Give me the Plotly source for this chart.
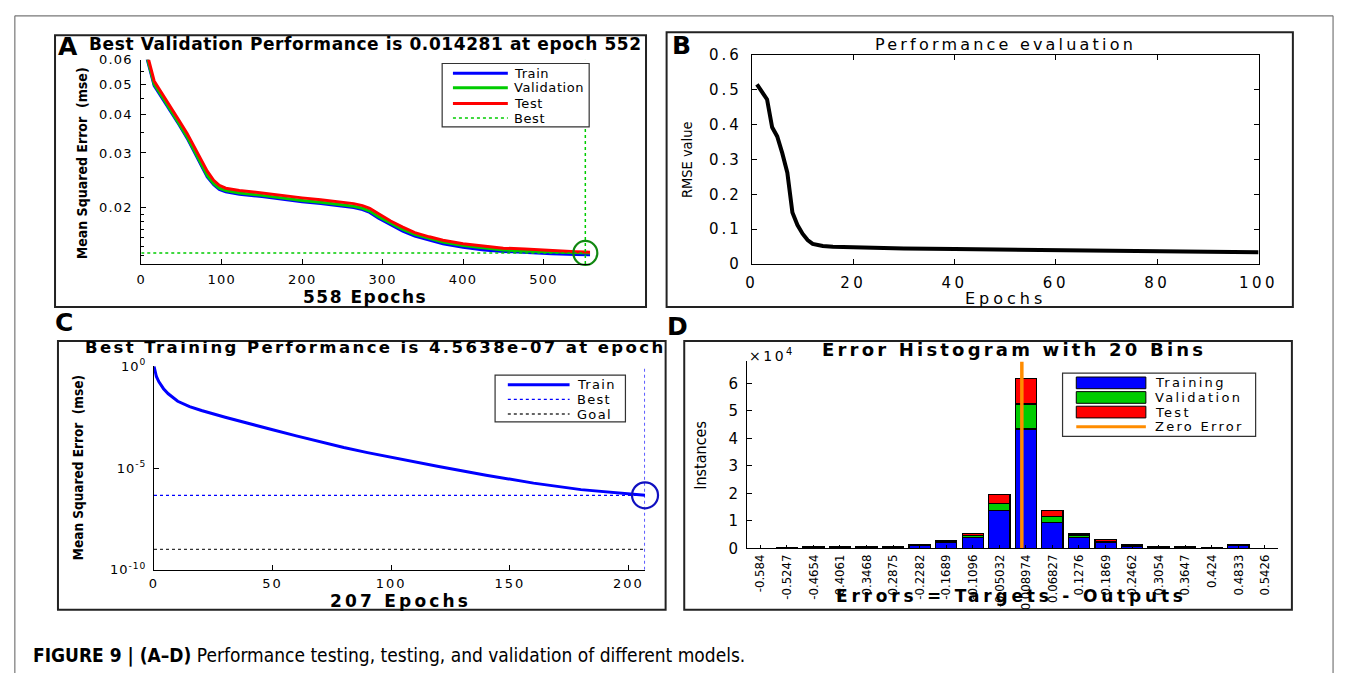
import math
import plotly.graph_objects as go

W, H = 1356, 682

# ---------------- data ----------------
# Panel A: training record (mse per epoch)
epochs_a = [0, 8, 16, 25, 37, 47, 57, 65, 72, 82, 90, 97, 105, 122, 150, 173, 200, 223, 245,
            264, 275, 284, 295, 310, 325, 340, 358, 375, 400, 426, 450, 477, 510, 540, 552, 558]
train_a = [0.0710, 0.0595, 0.0495, 0.0455, 0.0408, 0.0370, 0.0335, 0.0305, 0.0282, 0.0251, 0.0237,
           0.0229, 0.0225, 0.0221, 0.0217, 0.0213, 0.0209, 0.0206, 0.0203, 0.0200, 0.0197, 0.0193,
           0.0185, 0.0176, 0.0168, 0.0162, 0.0157, 0.0153, 0.0149, 0.0146, 0.01445, 0.01432,
           0.01420, 0.01413, 0.01410, 0.01409]
val_a = [0.0720, 0.0600, 0.0500, 0.0460, 0.0412, 0.0373, 0.0338, 0.0308, 0.0286, 0.0254, 0.0239,
         0.0231, 0.0227, 0.0223, 0.0219, 0.0215, 0.0211, 0.0208, 0.0205, 0.0202, 0.0199, 0.0195,
         0.0187, 0.0178, 0.0170, 0.0164, 0.0159, 0.0155, 0.0151, 0.0148, 0.0146, 0.01450,
         0.01438, 0.01431, 0.014281, 0.01428]
test_a = [0.0740, 0.0612, 0.0512, 0.0470, 0.0422, 0.0382, 0.0347, 0.0317, 0.0295, 0.0262, 0.0245,
          0.0236, 0.0231, 0.0227, 0.0223, 0.0219, 0.0215, 0.0212, 0.0209, 0.0206, 0.0203, 0.0199,
          0.0191, 0.0181, 0.0173, 0.0166, 0.0161, 0.0157, 0.0153, 0.0150, 0.0148, 0.01470,
          0.01452, 0.01442, 0.01438, 0.01437]
best_epoch_a = 552
best_val_a = 0.014281
n_epochs_a = 558
a_ymin, a_ymax = 0.01315, 0.06
a_xticks = [0, 100, 200, 300, 400, 500]
a_yticks = [0.02, 0.03, 0.04, 0.05, 0.06]
a_ytext = ["0.02", "0.03", "0.04", "0.05", "0.06"]

# Panel B: RMSE per epoch
epochs_b = [1, 2, 3, 4, 5, 6, 7, 8, 9, 10, 11, 12, 13, 14, 16, 20, 25, 30, 40, 50, 60, 70, 80, 90, 100]
rmse_b = [0.515, 0.495, 0.472, 0.392, 0.366, 0.318, 0.262, 0.148, 0.112, 0.087, 0.069, 0.058, 0.054,
          0.052, 0.050, 0.048, 0.047, 0.045, 0.043, 0.041, 0.039, 0.038, 0.036, 0.035, 0.034]
b_xticks = [0, 20, 40, 60, 80, 100]
b_yticks = [0, 0.1, 0.2, 0.3, 0.4, 0.5, 0.6]
b_ytext = ["0", "0.1", "0.2", "0.3", "0.4", "0.5", "0.6"]

# Panel C: training mse per epoch (log scale)
epochs_c = [0, 1, 2, 4, 6, 10, 15, 20, 30, 40, 50, 60, 70, 80, 90, 100, 120, 140, 160, 180, 200, 207]
train_c = [1.0, 0.316, 0.178, 0.0794, 0.0447, 0.0191, 0.0105, 0.00676, 0.00316, 0.00151, 7.6e-4,
           3.8e-4, 1.9e-4, 1.02e-4, 5.75e-5, 3.39e-5, 1.2e-5, 4.47e-6, 1.82e-6, 8.7e-7, 5.4e-7, 4.5638e-7]
best_epoch_c = 207
best_val_c = 4.5638e-07
goal_c = 1e-09
c_xticks = [0, 50, 100, 150, 200]
c_yticks = [1e-10, 1e-5, 1]
c_ytext = ["10<sup>-10</sup>", "10<sup>-5</sup>", "10<sup>0</sup>"]

# Panel D: error histogram, 20 bins
bin_labels = ["-0.584", "-0.5247", "-0.4654", "-0.4061", "-0.3468", "-0.2875", "-0.2282", "-0.1689",
              "-0.1096", "-0.05032", "0.008974", "0.06827", "0.1276", "0.1869", "0.2462", "0.3054",
              "0.3647", "0.424", "0.4833", "0.5426"]
hist_train = [70, 200, 450, 500, 500, 500, 1100, 2100, 3900, 13700, 43400, 9500, 3900, 2200, 900,
              500, 500, 300, 1000, 70]
hist_val = [15, 50, 80, 100, 100, 100, 200, 400, 700, 2700, 9100, 2000, 700, 300, 150, 100, 100, 50,
            150, 15]
hist_test = [15, 50, 70, 100, 100, 100, 200, 400, 900, 3100, 9400, 2200, 600, 600, 150, 100, 100, 50,
             150, 15]
d_ymax = 68000
d_yticks = [0, 10000, 20000, 30000, 40000, 50000, 60000]
d_ytext = ["0", "1", "2", "3", "4", "5", "6"]

# ---------------- helpers (page pixels -> paper) ----------------
def fx(p):
    return p / W

def fy(p):
    return 1 - p / H

def dom(left, right):
    return [fx(left), fx(right)]

def vdom(top, bottom):
    return [fy(bottom), fy(top)]

def sp(s, ls):
    """widen text with letter spacing (the reference is horizontally stretched)"""
    return '<span style="letter-spacing:%.1fpx">%s</span>' % (ls, s)

BLUE, GREEN, RED, ORANGE = "#0000ff", "#00cc00", "#ff0000", "#ff8c00"
SANS = "DejaVu Sans, Arial, sans-serif"
NARROW = "Liberation Sans Narrow, DejaVu Sans Condensed, Arial Narrow, sans-serif"

fig = go.Figure()

# ---- Panel A traces
for name, ys, col in [("Train", train_a, BLUE), ("Validation", val_a, GREEN), ("Test", test_a, RED)]:
    fig.add_trace(go.Scatter(x=epochs_a, y=ys, mode="lines", name=name, showlegend=False,
                             line=dict(color=col, width=3), xaxis="x", yaxis="y"))
fig.add_trace(go.Scatter(x=[0, best_epoch_a], y=[best_val_a, best_val_a], mode="lines",
                         line=dict(color=GREEN, width=1.5, dash="dot"), showlegend=False,
                         xaxis="x", yaxis="y"))
fig.add_trace(go.Scatter(x=[best_epoch_a, best_epoch_a], y=[a_ymin, a_ymax], mode="lines",
                         line=dict(color=GREEN, width=1.5, dash="dot"), showlegend=False,
                         xaxis="x", yaxis="y"))
fig.add_trace(go.Scatter(x=[best_epoch_a], y=[best_val_a], mode="markers", cliponaxis=False,
                         marker=dict(symbol="circle-open", size=24, color="#118811",
                                     line=dict(width=2.2, color="#118811")),
                         showlegend=False, xaxis="x", yaxis="y"))

# ---- Panel B traces
fig.add_trace(go.Scatter(x=epochs_b, y=rmse_b, mode="lines", line=dict(color="black", width=4),
                         showlegend=False, xaxis="x2", yaxis="y2"))

# ---- Panel C traces
fig.add_trace(go.Scatter(x=epochs_c, y=train_c, mode="lines", line=dict(color=BLUE, width=3),
                         showlegend=False, xaxis="x3", yaxis="y3"))
fig.add_trace(go.Scatter(x=[0, best_epoch_c], y=[best_val_c, best_val_c], mode="lines",
                         line=dict(color=BLUE, width=1.3, dash="dot"), showlegend=False,
                         xaxis="x3", yaxis="y3"))
fig.add_trace(go.Scatter(x=[0, best_epoch_c], y=[goal_c, goal_c], mode="lines",
                         line=dict(color="#333333", width=1.3, dash="dot"), showlegend=False,
                         xaxis="x3", yaxis="y3"))
fig.add_trace(go.Scatter(x=[best_epoch_c, best_epoch_c], y=[1e-10, 1], mode="lines",
                         line=dict(color=BLUE, width=1.3, dash="dot"), showlegend=False,
                         xaxis="x3", yaxis="y3"))
fig.add_trace(go.Scatter(x=[best_epoch_c], y=[best_val_c], mode="markers", cliponaxis=False,
                         marker=dict(symbol="circle-open", size=26, color="#1010c0",
                                     line=dict(width=2.2, color="#1010c0")),
                         showlegend=False, xaxis="x3", yaxis="y3"))

# ---- Panel D traces
centers = [float(s) for s in bin_labels]
bw = (centers[-1] - centers[0]) / (len(centers) - 1)
for name, ys, col in [("Training", hist_train, BLUE), ("Validation", hist_val, GREEN),
                      ("Test", hist_test, RED)]:
    fig.add_trace(go.Bar(x=centers, y=ys, name=name, width=bw * 0.8, showlegend=False,
                         marker=dict(color=col, line=dict(color="black", width=1.2)),
                         xaxis="x4", yaxis="y4"))
fig.add_trace(go.Scatter(x=[0, 0], y=[0, d_ymax], mode="lines", line=dict(color=ORANGE, width=3.5),
                         showlegend=False, xaxis="x4", yaxis="y4"))

# ---------------- axes ----------------
common = dict(showgrid=False, zeroline=False, showline=True, linecolor="black", linewidth=1,
              ticks="inside", ticklen=5, tickcolor="black", tickwidth=1,
              tickfont=dict(family=SANS, size=13, color="black"))

layout = dict(
    width=W, height=H, margin=dict(l=0, r=0, t=0, b=0),
    paper_bgcolor="white", plot_bgcolor="white", showlegend=False, barmode="stack",
    font=dict(family=SANS, color="black"),
    xaxis=dict(common, domain=dom(137, 595), range=[0, n_epochs_a], tickvals=a_xticks,
               ticktext=[sp(str(v), 1.2) for v in a_xticks], ticklabelstandoff=3, anchor="y"),
    yaxis=dict(common, domain=vdom(52, 262), type="log",
               range=[math.log10(a_ymin), math.log10(a_ymax)], tickvals=a_yticks,
               ticktext=[sp(t, 1.2) for t in a_ytext], ticklabelstandoff=5,
               minor=dict(ticks="inside", ticklen=3, tickcolor="black",
                          tickvals=[0.014, 0.015, 0.016, 0.017, 0.018, 0.019, 0.025, 0.035, 0.045, 0.055]),
               anchor="x"),
    xaxis2=dict(common, domain=dom(760, 1277), range=[0, 100], tickvals=b_xticks,
                ticktext=[sp(str(v), 3.5) for v in b_xticks], mirror="ticks", anchor="y2",
                ticklabelstandoff=5, tickfont=dict(family=SANS, size=15, color="black")),
    yaxis2=dict(common, domain=vdom(47, 262), range=[0, 0.6], tickvals=b_yticks,
                ticktext=[sp(t, 3.0) for t in b_ytext], mirror="ticks", ticklabelstandoff=6,
                anchor="x2", tickfont=dict(family=SANS, size=15, color="black")),
    xaxis3=dict(common, domain=dom(150, 651), range=[0, 207], tickvals=c_xticks,
                ticktext=[sp(str(v), 2.0) for v in c_xticks], ticklabelstandoff=2, anchor="y3"),
    yaxis3=dict(common, domain=vdom(367, 576), type="log", range=[-10, 0],
                tickvals=c_yticks, ticktext=[sp(t, 1.0) for t in c_ytext], ticklabelstandoff=4,
                anchor="x3"),
    xaxis4=dict(common, domain=dom(755, 1297), range=[centers[0] - bw / 2, centers[-1] + bw / 2],
                tickvals=centers, ticktext=bin_labels, tickangle=-90, ticklen=3,
                tickfont=dict(family=NARROW, size=13, color="black"), anchor="y4"),
    yaxis4=dict(common, domain=vdom(362, 554), range=[0, d_ymax], tickvals=d_yticks,
                ticktext=d_ytext, anchor="x4", ticklabelstandoff=5,
                tickfont=dict(family=SANS, size=15, color="black")),
)

shapes = []
annotations = []

def line(x0, y0, x1, y1, color="black", width=1, dash="solid"):
    shapes.append(dict(type="line", xref="paper", yref="paper", x0=fx(x0), y0=fy(y0), x1=fx(x1),
                       y1=fy(y1), line=dict(color=color, width=width, dash=dash)))

def rect(x0, y0, x1, y1, color="black", width=1, fill=None):
    d = dict(type="rect", xref="paper", yref="paper", x0=fx(x0), y0=fy(y0), x1=fx(x1), y1=fy(y1),
             line=dict(color=color, width=width))
    if fill:
        d["fillcolor"] = fill
    shapes.append(d)

def text(s, x, y, size, family=SANS, xanchor="center", angle=0, color="black"):
    annotations.append(dict(text=s, x=fx(x), y=fy(y), xref="paper", yref="paper", showarrow=False,
                            xanchor=xanchor, yanchor="middle", textangle=angle, borderpad=0,
                            font=dict(family=family, size=size, color=color)))

# outer frame
line(8, 7, 1353, 7, "#777777", 1.2)
line(8, 7, 8, 682, "#777777", 1.2)
line(1353, 7, 1353, 682, "#777777", 1.2)

# panel boxes
rect(49, 27, 652, 306, "#222222", 2)
rect(673, 24, 1312, 306, "#222222", 2)
rect(52, 341, 672, 617, "#222222", 2)
rect(691, 341, 1311, 617, "#222222", 2)

# legend A
rect(444, 56, 594, 121, "#333333", 1.2, "white")
for yy, col, dash, lab in [(66, BLUE, "solid", "Train"), (81, GREEN, "solid", "Validation"),
                           (97, RED, "solid", "Test"), (112, GREEN, "dot", "Best")]:
    line(455, yy, 511, yy, col, 3 if dash == "solid" else 1.5, dash)
    text(sp(lab, 0.6), 516, yy, 13, xanchor="left")

# legend C
rect(498, 376, 631, 424, "#333333", 1.2, "white")
for yy, col, dash, lab in [(386, BLUE, "solid", "Train"), (401, BLUE, "dot", "Best"),
                           (416, "#333333", "dot", "Goal")]:
    line(511, yy, 574, yy, col, 3 if dash == "solid" else 1.3, dash)
    text(sp(lab, 1.3), 581, yy, 13, xanchor="left")

# legend D
rect(1077, 374, 1274, 439, "#333333", 1.2, "white")
for yy, col, lab in [(384, BLUE, "Training"), (399, GREEN, "Validation"), (414, RED, "Test")]:
    rect(1091, yy - 6, 1162, yy + 6, "black", 1, col)
    text(sp(lab, 2.3), 1170, yy, 13, xanchor="left")
line(1091, 429, 1162, 429, ORANGE, 3)
text(sp("Zero Error", 2.3), 1170, 429, 13, xanchor="left")

# panel letters
text("<b>A</b>", 62, 39, 25)
text("<b>B</b>", 688, 38, 25)
text("<b>C</b>", 58, 322, 25)
text("<b>D</b>", 684, 326, 25)

# titles
text("<b>" + sp("Best Validation Performance is 0.014281 at epoch 552", 0.6) + "</b>", 366, 36, 17)
text(sp("Performance evaluation", 3.2), 1019, 36, 16)
text("<b>" + sp("Best Training Performance is 4.5638e-07 at epoch", 2.4) + "</b>", 376, 348, 16.5)
text("<b>" + sp("Error Histogram with 20 Bins", 3.2) + "</b>", 1027, 350, 18)

# axis titles
text("<b>Mean Squared Error  (mse)</b>", 76, 158, 14, NARROW, angle=-90)
text("<b>" + sp("558 Epochs", 1.5) + "</b>", 365, 296, 17)
text("RMSE value", 694, 155, 14.5, NARROW, angle=-90)
text(sp("Epochs", 4.0), 1019, 297, 16)
text("<b>Mean Squared Error  (mse)</b>", 72, 471, 13.5, NARROW, angle=-90)
text("<b>" + sp("207 Epochs", 3.2) + "</b>", 401, 608, 17)
text("Instances", 708, 458, 16, NARROW, angle=-90)
text("<b>" + sp("Errors = Targets - Outputs", 3.8) + "</b>", 1025, 603, 17)
text(sp("\u00d710<sup>4</sup>", 2.5), 756, 355, 14, xanchor="left")

# caption
text("<b>FIGURE 9 | (A\u2013D)</b> Performance testing, testing, and validation of different models.",
     25, 664, 19, NARROW, xanchor="left")

layout["shapes"] = shapes
layout["annotations"] = annotations
fig.update_layout(**layout)
fig.write_html("out.html")
